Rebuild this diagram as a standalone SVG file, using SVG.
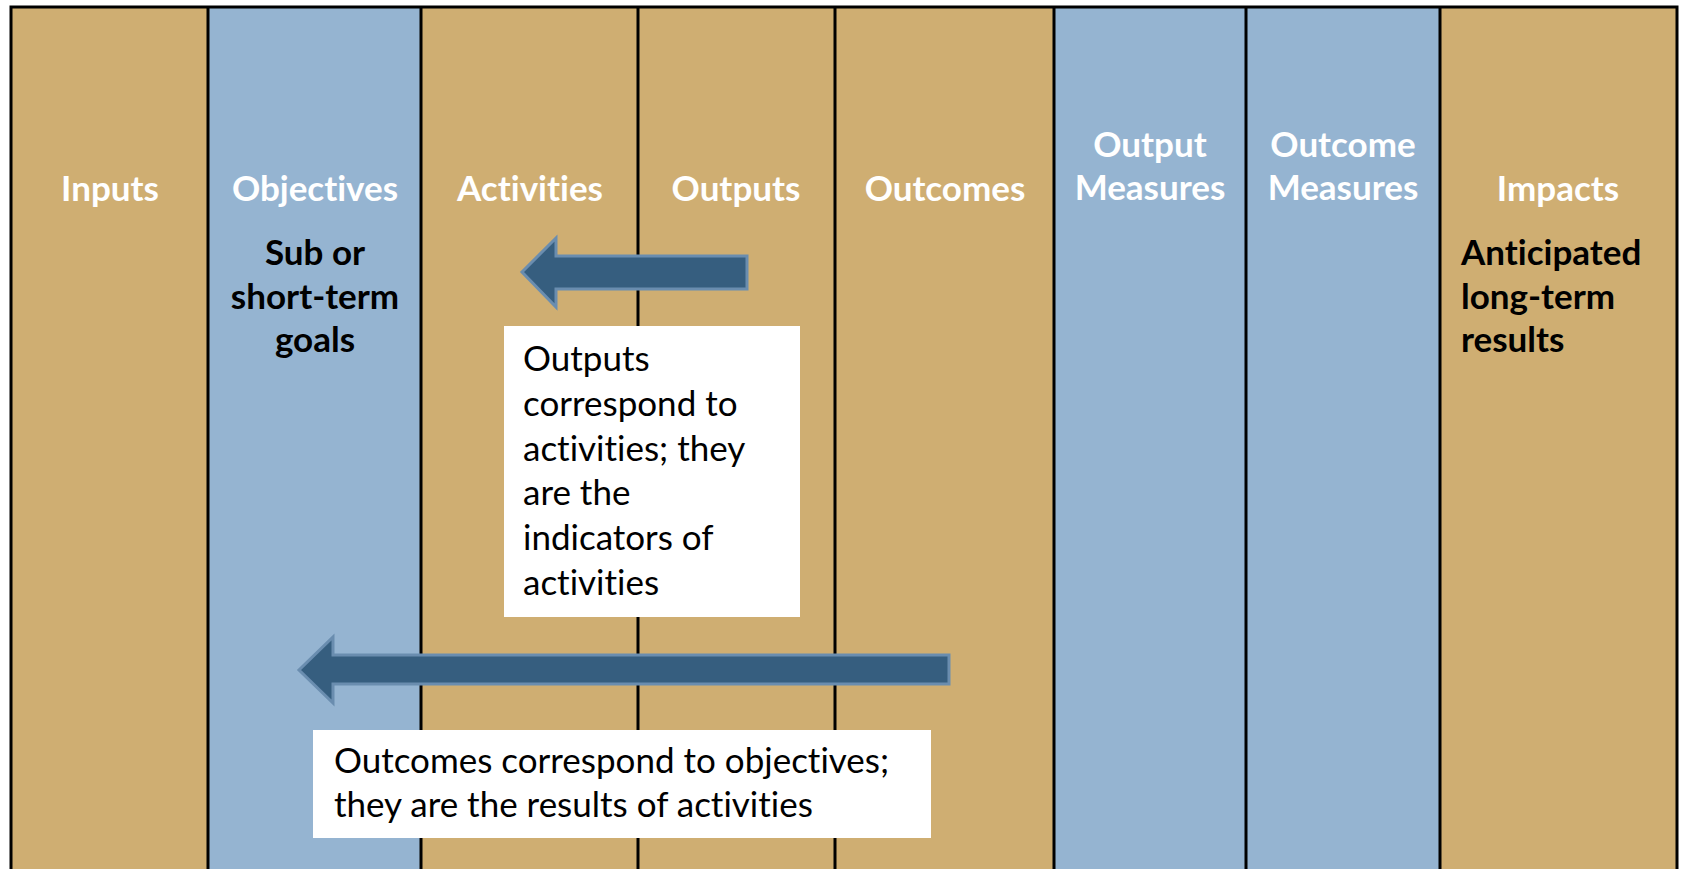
<svg xmlns="http://www.w3.org/2000/svg" width="1681" height="869" viewBox="0 0 1681 869">
  <style>
    .tan { fill: #CFAE72; }
    .blue { fill: #95B4D1; }
    .line { stroke: #000000; stroke-width: 3; fill: none; }
    text { font-variant-ligatures: none; font-feature-settings: "liga" 0, "dlig" 0; }
    .hdr { font-family: Lato, "Open Sans", "Liberation Sans", sans-serif; font-weight: bold; font-size: 35px; fill: #FFFFFF; text-anchor: middle; }
    .sub { font-family: Lato, "Open Sans", "Liberation Sans", sans-serif; font-weight: bold; font-size: 35px; fill: #000000; }
    .note { font-family: Lato, "Open Sans", "Liberation Sans", sans-serif; font-size: 35px; fill: #000000; }
    .box { fill: #FFFFFF; }
    .arrow { fill: #365E7F; stroke: #6A8DAF; stroke-width: 3; stroke-linejoin: miter; }
  </style>
  <rect x="0" y="0" width="1681" height="869" fill="#FFFFFF"/>

  <g id="col-inputs">
    <rect class="tan" x="11" y="7" width="197" height="862"/>
    <text class="hdr" x="110" y="201">Inputs</text>
  </g>
  <g id="col-objectives">
    <rect class="blue" x="208" y="7" width="213" height="862"/>
    <text class="hdr" x="315" y="201">Objectives</text>
    <text class="sub" text-anchor="middle" x="315" y="265">Sub or</text>
    <text class="sub" text-anchor="middle" x="315" y="309">short-term</text>
    <text class="sub" text-anchor="middle" x="315" y="352">goals</text>
  </g>
  <g id="col-activities">
    <rect class="tan" x="421" y="7" width="217" height="862"/>
    <text class="hdr" x="530" y="201">Activities</text>
  </g>
  <g id="col-outputs">
    <rect class="tan" x="638" y="7" width="197" height="862"/>
    <text class="hdr" x="736" y="201">Outputs</text>
  </g>
  <g id="col-outcomes">
    <rect class="tan" x="835" y="7" width="219" height="862"/>
    <text class="hdr" x="945" y="201">Outcomes</text>
  </g>
  <g id="col-output-measures">
    <rect class="blue" x="1054" y="7" width="192" height="862"/>
    <text class="hdr" x="1150" y="157">Output</text>
    <text class="hdr" x="1150" y="200">Measures</text>
  </g>
  <g id="col-outcome-measures">
    <rect class="blue" x="1246" y="7" width="194" height="862"/>
    <text class="hdr" x="1343" y="157">Outcome</text>
    <text class="hdr" x="1343" y="200">Measures</text>
  </g>
  <g id="col-impacts">
    <rect class="tan" x="1440" y="7" width="237" height="862"/>
    <text class="hdr" x="1558" y="201">Impacts</text>
    <text class="sub" x="1461" y="265">Anticipated</text>
    <text class="sub" x="1461" y="309">long-term</text>
    <text class="sub" x="1461" y="352">results</text>
  </g>

  <g id="grid-lines">
    <path class="line" d="M11,869 V7 H1677 V869"/>
    <path class="line" d="M208,7 V869 M421,7 V869 M638,7 V869 M835,7 V869 M1054,7 V869 M1246,7 V869 M1440,7 V869"/>
  </g>

  <g id="connectors">
    <path class="arrow" d="M747,256 H556 V238 L522,272 L556,307 V289 H747 Z"/>
    <path class="arrow" d="M949,655 H333 V637 L299,670 L333,703 V684 H949 Z"/>
  </g>

  <g id="note-outputs">
    <rect class="box" x="504" y="326" width="296" height="291"/>
    <text class="note" x="523" y="371">Outputs</text>
    <text class="note" x="523" y="416">correspond to</text>
    <text class="note" x="523" y="461">activities; they</text>
    <text class="note" x="523" y="505">are the</text>
    <text class="note" x="523" y="550">indicators of</text>
    <text class="note" x="523" y="595">activities</text>
  </g>
  <g id="note-outcomes">
    <rect class="box" x="313" y="730" width="618" height="108"/>
    <text class="note" x="334" y="773">Outcomes correspond to objectives;</text>
    <text class="note" x="334" y="817">they are the results of activities</text>
  </g>
</svg>
